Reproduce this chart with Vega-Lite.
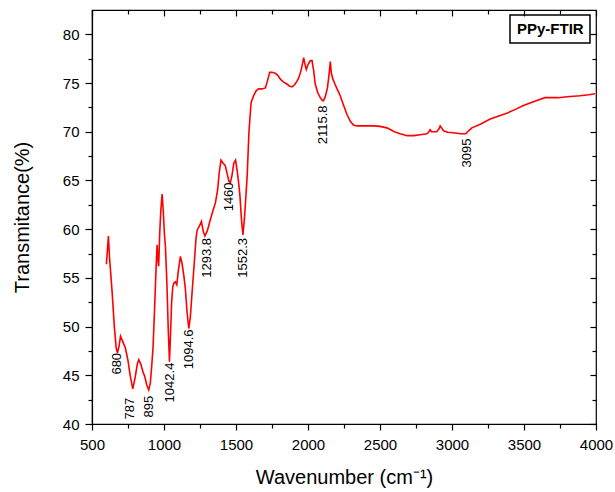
{
  "$schema": "https://vega.github.io/schema/vega-lite/v6.json",
  "width": 504,
  "height": 414,
  "autosize": {"type": "none"},
  "padding": {"left": 92, "top": 10, "right": 19, "bottom": 68},
  "background": "white",
  "config": {
    "font": "Liberation Sans",
    "view": {"stroke": "black", "strokeWidth": 1.2},
    "axis": {"grid": false, "domainColor": "black", "tickColor": "black", "labelColor": "black", "titleColor": "black", "labelFont": "Liberation Sans", "titleFont": "Liberation Sans", "titleFontWeight": "normal", "labelFontSize": 15, "titleFontSize": 20, "domainWidth": 1.2, "tickWidth": 1.2},
    "legend": {"strokeWidth": 1.5}
  },
  "datasets": {
    "spectrum": [
      {"wn": 600, "t": 56.4}, {"wn": 614, "t": 59.3}, {"wn": 622, "t": 57.0}, {"wn": 640, "t": 53.5}, {"wn": 655, "t": 50.0},
      {"wn": 668, "t": 47.8}, {"wn": 677, "t": 47.3}, {"wn": 688, "t": 48.0}, {"wn": 698, "t": 49.0}, {"wn": 715, "t": 48.4},
      {"wn": 732, "t": 47.8}, {"wn": 750, "t": 46.5}, {"wn": 765, "t": 45.0}, {"wn": 783, "t": 43.6}, {"wn": 800, "t": 44.8},
      {"wn": 815, "t": 46.2}, {"wn": 825, "t": 46.6}, {"wn": 840, "t": 46.1}, {"wn": 855, "t": 45.3}, {"wn": 866, "t": 44.9},
      {"wn": 880, "t": 44.0}, {"wn": 894, "t": 43.5}, {"wn": 905, "t": 44.2}, {"wn": 915, "t": 46.0}, {"wn": 924, "t": 47.9},
      {"wn": 935, "t": 52.0}, {"wn": 945, "t": 56.0}, {"wn": 952, "t": 58.4}, {"wn": 957, "t": 57.0}, {"wn": 963, "t": 56.2},
      {"wn": 970, "t": 59.5}, {"wn": 978, "t": 62.0}, {"wn": 987, "t": 63.6}, {"wn": 995, "t": 61.8}, {"wn": 1003, "t": 59.5},
      {"wn": 1010, "t": 58.2}, {"wn": 1020, "t": 54.5}, {"wn": 1030, "t": 49.5}, {"wn": 1038, "t": 46.4}, {"wn": 1046, "t": 49.5},
      {"wn": 1053, "t": 52.5}, {"wn": 1061, "t": 54.1}, {"wn": 1070, "t": 54.5}, {"wn": 1079, "t": 54.6}, {"wn": 1089, "t": 54.3},
      {"wn": 1100, "t": 55.8}, {"wn": 1114, "t": 57.2}, {"wn": 1125, "t": 56.5}, {"wn": 1138, "t": 55.2}, {"wn": 1149, "t": 53.8},
      {"wn": 1160, "t": 51.5}, {"wn": 1172, "t": 49.8}, {"wn": 1183, "t": 51.0}, {"wn": 1195, "t": 53.5}, {"wn": 1210, "t": 56.5},
      {"wn": 1222, "t": 59.0}, {"wn": 1230, "t": 59.9}, {"wn": 1245, "t": 60.3}, {"wn": 1260, "t": 60.8}, {"wn": 1272, "t": 59.8},
      {"wn": 1284, "t": 59.3}, {"wn": 1300, "t": 59.8}, {"wn": 1322, "t": 61.0}, {"wn": 1340, "t": 61.9}, {"wn": 1357, "t": 62.7},
      {"wn": 1372, "t": 64.0}, {"wn": 1385, "t": 66.0}, {"wn": 1396, "t": 67.1}, {"wn": 1410, "t": 66.8}, {"wn": 1426, "t": 66.5},
      {"wn": 1440, "t": 65.6}, {"wn": 1451, "t": 64.9}, {"wn": 1461, "t": 64.8}, {"wn": 1472, "t": 65.5}, {"wn": 1485, "t": 66.8},
      {"wn": 1497, "t": 67.1}, {"wn": 1508, "t": 66.0}, {"wn": 1518, "t": 64.8}, {"wn": 1527, "t": 63.5}, {"wn": 1538, "t": 61.0},
      {"wn": 1548, "t": 59.4}, {"wn": 1558, "t": 61.0}, {"wn": 1568, "t": 63.2}, {"wn": 1578, "t": 65.6}, {"wn": 1590, "t": 70.0},
      {"wn": 1605, "t": 73.0}, {"wn": 1625, "t": 73.8}, {"wn": 1640, "t": 74.2}, {"wn": 1657, "t": 74.4}, {"wn": 1680, "t": 74.4},
      {"wn": 1704, "t": 74.5}, {"wn": 1718, "t": 75.2}, {"wn": 1734, "t": 76.1}, {"wn": 1750, "t": 76.1}, {"wn": 1773, "t": 76.0},
      {"wn": 1790, "t": 75.8}, {"wn": 1808, "t": 75.4}, {"wn": 1830, "t": 75.1}, {"wn": 1854, "t": 74.9}, {"wn": 1870, "t": 74.7},
      {"wn": 1889, "t": 74.6}, {"wn": 1905, "t": 74.8}, {"wn": 1920, "t": 75.1}, {"wn": 1935, "t": 75.5}, {"wn": 1950, "t": 76.2},
      {"wn": 1962, "t": 77.0}, {"wn": 1970, "t": 77.6}, {"wn": 1978, "t": 77.0}, {"wn": 1988, "t": 76.4}, {"wn": 2000, "t": 76.9},
      {"wn": 2016, "t": 77.3}, {"wn": 2028, "t": 77.3}, {"wn": 2040, "t": 76.2}, {"wn": 2050, "t": 74.9}, {"wn": 2068, "t": 74.0},
      {"wn": 2085, "t": 73.5}, {"wn": 2100, "t": 73.2}, {"wn": 2108, "t": 73.2}, {"wn": 2120, "t": 73.6}, {"wn": 2135, "t": 74.5},
      {"wn": 2147, "t": 76.0}, {"wn": 2155, "t": 77.2}, {"wn": 2162, "t": 76.0}, {"wn": 2173, "t": 75.4}, {"wn": 2190, "t": 74.8},
      {"wn": 2205, "t": 74.3}, {"wn": 2224, "t": 73.7}, {"wn": 2245, "t": 72.8}, {"wn": 2270, "t": 71.8}, {"wn": 2293, "t": 71.1},
      {"wn": 2315, "t": 70.7}, {"wn": 2340, "t": 70.6}, {"wn": 2400, "t": 70.6}, {"wn": 2455, "t": 70.6}, {"wn": 2500, "t": 70.55},
      {"wn": 2548, "t": 70.4}, {"wn": 2600, "t": 70.0}, {"wn": 2640, "t": 69.8}, {"wn": 2690, "t": 69.6}, {"wn": 2733, "t": 69.6},
      {"wn": 2780, "t": 69.7}, {"wn": 2826, "t": 69.8}, {"wn": 2840, "t": 70.0}, {"wn": 2848, "t": 70.2}, {"wn": 2858, "t": 70.0},
      {"wn": 2871, "t": 70.0}, {"wn": 2894, "t": 70.0}, {"wn": 2910, "t": 70.3}, {"wn": 2918, "t": 70.6}, {"wn": 2928, "t": 70.4},
      {"wn": 2941, "t": 70.1}, {"wn": 2970, "t": 69.95}, {"wn": 3010, "t": 69.9}, {"wn": 3060, "t": 69.8}, {"wn": 3096, "t": 69.8},
      {"wn": 3115, "t": 70.1}, {"wn": 3138, "t": 70.4}, {"wn": 3200, "t": 70.8}, {"wn": 3265, "t": 71.3}, {"wn": 3320, "t": 71.6},
      {"wn": 3380, "t": 71.9}, {"wn": 3440, "t": 72.3}, {"wn": 3496, "t": 72.7}, {"wn": 3570, "t": 73.1}, {"wn": 3646, "t": 73.5},
      {"wn": 3700, "t": 73.5}, {"wn": 3738, "t": 73.5}, {"wn": 3800, "t": 73.6}, {"wn": 3889, "t": 73.7}, {"wn": 3950, "t": 73.8},
      {"wn": 3993, "t": 73.9}
    ],
    "peaks": [
      {"wn": 677, "t": 47.3, "label": "680"},
      {"wn": 767, "t": 42.7, "label": "787"},
      {"wn": 899, "t": 42.9, "label": "895"},
      {"wn": 1045, "t": 46.3, "label": "1042.4"},
      {"wn": 1176, "t": 49.7, "label": "1094.6"},
      {"wn": 1301, "t": 59.1, "label": "1293.8"},
      {"wn": 1454, "t": 64.8, "label": "1460"},
      {"wn": 1551, "t": 59.1, "label": "1552.3"},
      {"wn": 2104, "t": 72.7, "label": "2115.8"},
      {"wn": 3103, "t": 69.3, "label": "3095"}
    ]
  },
  "layer": [
    {
      "data": {"name": "spectrum"},
      "mark": {"type": "line", "strokeWidth": 1.6, "clip": true},
      "encoding": {
        "x": {
          "field": "wn", "type": "quantitative",
          "scale": {"domain": [500, 4000], "nice": false, "zero": false},
          "axis": {
            "title": "Wavenumber (cm⁻¹)",
            "format": "d",
            "values": [500, 750, 1000, 1250, 1500, 1750, 2000, 2250, 2500, 2750, 3000, 3250, 3500, 3750, 4000],
            "labelExpr": "datum.value % 500 === 0 ? datum.label : ''",
            "tickSize": {"condition": {"test": "datum.value % 500 === 0", "value": 6}, "value": 4},
            "labelPadding": 7,
            "titlePadding": 15,
            "labelFlush": false,
            "labelOverlap": false
          }
        },
        "y": {
          "field": "t", "type": "quantitative",
          "scale": {"domain": [40, 82.5], "nice": false, "zero": false},
          "axis": {
            "title": "Transmitance(%)",
            "values": [40, 42.5, 45, 47.5, 50, 52.5, 55, 57.5, 60, 62.5, 65, 67.5, 70, 72.5, 75, 77.5, 80],
            "labelExpr": "datum.value % 5 === 0 ? datum.label : ''",
            "tickSize": {"condition": {"test": "datum.value % 5 === 0", "value": 7}, "value": 4},
            "labelPadding": 6,
            "titlePadding": 30,
            "labelFlush": false,
            "labelOverlap": false
          }
        },
        "color": {
          "datum": "PPy-FTIR",
          "scale": {"range": ["#ff0000"]},
          "legend": {
            "title": null,
            "orient": "none",
            "legendX": 418,
            "legendY": 5,
            "strokeColor": "black",
            "padding": 6,
            "symbolSize": 0,
            "symbolStrokeWidth": 0,
            "symbolOpacity": 0,
            "labelOffset": -14,
            "labelFontSize": 15,
            "labelFontWeight": "bold",
            "labelColor": "black",
            "labelFont": "Liberation Sans"
          }
        }
      }
    },
    {
      "data": {"name": "peaks"},
      "mark": {"type": "text", "angle": 270, "align": "right", "baseline": "middle", "fontSize": 13, "color": "black", "font": "Liberation Sans"},
      "encoding": {
        "x": {
          "field": "wn", "type": "quantitative",
          "axis": {
            "orient": "top", "title": null, "labels": false, "domain": false,
            "values": [500, 750, 1000, 1250, 1500, 1750, 2000, 2250, 2500, 2750, 3000, 3250, 3500, 3750, 4000],
            "tickSize": {"condition": {"test": "datum.value % 500 === 0", "value": -6}, "value": -4}
          }
        },
        "y": {
          "field": "t", "type": "quantitative",
          "axis": {
            "orient": "right", "title": null, "labels": false, "domain": false,
            "values": [40, 42.5, 45, 47.5, 50, 52.5, 55, 57.5, 60, 62.5, 65, 67.5, 70, 72.5, 75, 77.5, 80],
            "tickSize": {"condition": {"test": "datum.value % 5 === 0", "value": -6}, "value": -4}
          }
        },
        "text": {"field": "label"}
      }
    }
  ],
  "resolve": {"axis": {"x": "independent", "y": "independent"}}
}
